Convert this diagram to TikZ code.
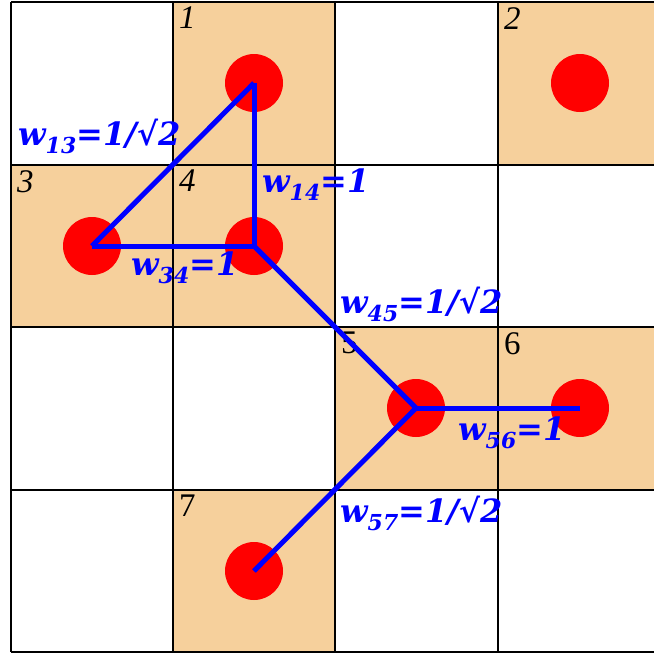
\documentclass[tikz,border=0pt]{standalone}
\usepackage{fontspec}
\newfontfamily\labfont{DejaVu Serif}
\newfontfamily\numfont{Liberation Serif}
\definecolor{cellorange}{RGB}{246,208,156}
\tikzset{
  x=1pt, y=-1pt,
  cellfill/.style={fill=cellorange, draw=none},
  gridline/.style={draw=black, line width=1.8pt},
  dot/.style={circle, fill=red, draw=none, minimum size=58pt, inner sep=0pt},
  edge/.style={draw=blue, line width=5pt},
  wlabel/.style={anchor=base west, inner sep=0pt, text=blue, font=\labfont\bfseries\itshape\fontsize{32}{34}\selectfont},
  numlabel/.style={anchor=north west, inner sep=0pt, font=\numfont\fontsize{33}{36}\selectfont}
}
\newcommand{\wsub}[1]{\raisebox{-8pt}{\fontsize{22}{24}\selectfont #1}}
\begin{document}
\begin{tikzpicture}
\useasboundingbox (0,0) rectangle (654,657);
\clip (0,0) rectangle (654,657);
% orange cells
\fill[cellfill] (173,2) rectangle (335,165);
\fill[cellfill] (498,2) rectangle (660,165);
\fill[cellfill] (11,165) rectangle (173,327);
\fill[cellfill] (173,165) rectangle (335,327);
\fill[cellfill] (335,327) rectangle (498,490);
\fill[cellfill] (498,327) rectangle (660,490);
\fill[cellfill] (173,490) rectangle (335,652);
% grid
\foreach \xx in {11,173,335,498,660} \draw[gridline] (\xx,2) -- (\xx,652);
\foreach \yy in {2,165,327,490,652} \draw[gridline] (11,\yy) -- (660,\yy);
% cell numbers
\node[numlabel] (n1) at (179,7) {\itshape 1};
\node[numlabel] (n2) at (504,7) {\itshape 2};
\node[numlabel] (n3) at (17,170) {\itshape 3};
\node[numlabel] (n4) at (179,170) {\itshape 4};
\node[numlabel] (n5) at (341,332) {5};
\node[numlabel] (n6) at (504,332) {6};
\node[numlabel] (n7) at (179,495) {7};
% dots
\node[dot] (c1) at (254,83) {};
\node[dot] (c2) at (580,83) {};
\node[dot] (c3) at (92,246) {};
\node[dot] (c4) at (254,246) {};
\node[dot] (c5) at (416,408) {};
\node[dot] (c6) at (580,408) {};
\node[dot] (c7) at (254,571) {};
% edges
\draw[edge] (c1.center) -- (c3.center);
\draw[edge] (c1.center) -- (c4.center);
\draw[edge] (c3.center) -- (c4.center);
\draw[edge] (c4.center) -- (c5.center);
\draw[edge] (c5.center) -- (c6.center);
\draw[edge] (c5.center) -- (c7.center);
% weight labels
\node[wlabel] (l13) at (18,145) {w\wsub{13}=1/√2};
\node[wlabel] (l14) at (262,192) {w\wsub{14}=1};
\node[wlabel] (l34) at (131,275) {w\wsub{34}=1};
\node[wlabel] (l45) at (340,313) {w\wsub{45}=1/√2};
\node[wlabel] (l56) at (458,440) {w\wsub{56}=1};
\node[wlabel] (l57) at (340,522) {w\wsub{57}=1/√2};
\end{tikzpicture}
\end{document}
